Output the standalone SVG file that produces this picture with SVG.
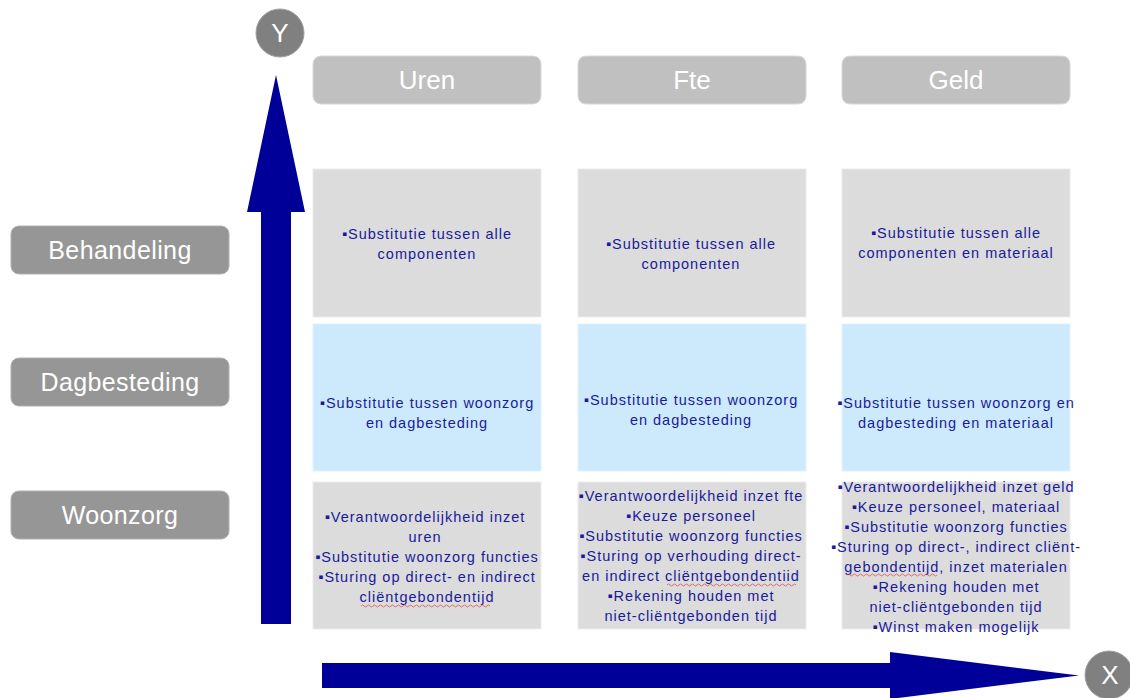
<svg xmlns="http://www.w3.org/2000/svg" width="1130" height="698" viewBox="0 0 1130 698">
<style>
.hdr{fill:#c0c0c0;stroke:#d8d8d8;stroke-width:1}
.lbl{fill:#969696;stroke:#b0b0b0;stroke-width:1}
.hdrt{font-family:"Liberation Sans",Arial,sans-serif;font-size:26px;fill:#ffffff;text-anchor:middle}
.lblt{font-family:"Liberation Sans",Arial,sans-serif;font-size:25px;fill:#ffffff;text-anchor:middle;letter-spacing:0.4px}
.gray{fill:#dcdcdc;stroke:#ececec;stroke-width:1}
.blue{fill:#cceafc;stroke:#e0f2fd;stroke-width:1}
.ct{font-family:"Liberation Sans",Arial,sans-serif;font-size:14.5px;fill:#1a1a9a;text-anchor:middle;letter-spacing:1px}
.arr{fill:#000099}
.circ{fill:#808080;stroke:#a0a0a0;stroke-width:1}
.circt{font-family:"Liberation Sans",Arial,sans-serif;font-size:26px;fill:#ffffff;text-anchor:middle}
.sq{fill:none;stroke:#e05050;stroke-width:0.8}
</style>
<rect width="1130" height="698" fill="#ffffff"/>
<g id="connectors">
<polygon class="arr" points="261,624 291,624 291,212 305,212 276,75 247,212 261,212"/>
<polygon class="arr" points="322,663 890,663 890,652 1079,675.5 890,699 890,688 322,688"/>
</g>
<g id="axis-y"><circle class="circ" cx="280" cy="33" r="24"/><text class="circt" x="280" y="42">Y</text></g>
<g id="axis-x"><circle class="circ" cx="1109" cy="675" r="24"/><text class="circt" x="1110" y="684">X</text></g>
<g id="hdr-uren"><rect class="hdr" x="313" y="56" width="228" height="48" rx="8"/><text class="hdrt" x="427" y="89">Uren</text></g>
<g id="hdr-fte"><rect class="hdr" x="578" y="56" width="228" height="48" rx="8"/><text class="hdrt" x="692" y="89">Fte</text></g>
<g id="hdr-geld"><rect class="hdr" x="842" y="56" width="228" height="48" rx="8"/><text class="hdrt" x="956" y="89">Geld</text></g>
<g id="lbl-behandeling"><rect class="lbl" x="11" y="226" width="218" height="48" rx="8"/><text class="lblt" x="120" y="259">Behandeling</text></g>
<g id="lbl-dagbesteding"><rect class="lbl" x="11" y="358" width="218" height="48" rx="8"/><text class="lblt" x="120" y="391">Dagbesteding</text></g>
<g id="lbl-woonzorg"><rect class="lbl" x="11" y="491" width="218" height="48" rx="8"/><text class="lblt" x="120" y="524">Woonzorg</text></g>
<g id="c11"><rect class="gray" x="313" y="169" width="228" height="148"/>
<text class="ct" x="427" y="239">▪Substitutie tussen alle</text><text class="ct" x="427" y="259">componenten</text></g>
<g id="c12"><rect class="gray" x="578" y="169" width="228" height="148"/>
<text class="ct" x="691" y="249">▪Substitutie tussen alle</text><text class="ct" x="691" y="269">componenten</text></g>
<g id="c13"><rect class="gray" x="842" y="169" width="228" height="148"/>
<text class="ct" x="956" y="238">▪Substitutie tussen alle</text><text class="ct" x="956" y="258">componenten en materiaal</text></g>
<g id="c21"><rect class="blue" x="313" y="324" width="228" height="147"/>
<text class="ct" x="427" y="408">▪Substitutie tussen woonzorg</text><text class="ct" x="427" y="428">en dagbesteding</text></g>
<g id="c22"><rect class="blue" x="578" y="324" width="228" height="147"/>
<text class="ct" x="691" y="405">▪Substitutie tussen woonzorg</text><text class="ct" x="691" y="425">en dagbesteding</text></g>
<g id="c23"><rect class="blue" x="842" y="324" width="228" height="147"/>
<text class="ct" x="956" y="408">▪Substitutie tussen woonzorg en</text><text class="ct" x="956" y="428">dagbesteding en materiaal</text></g>
<g id="c31"><rect class="gray" x="313" y="482" width="228" height="147"/>
<text class="ct" x="425" y="522">▪Verantwoordelijkheid inzet</text>
<text class="ct" x="425" y="542">uren</text>
<text class="ct" x="427" y="562">▪Substitutie woonzorg functies</text>
<text class="ct" x="427" y="582">▪Sturing op direct- en indirect</text>
<text class="ct" x="427" y="602">cliëntgebondentijd</text>
<path class="sq" d="M361,606 q1.5,-2 3,0 t3,0 t3,0 t3,0 t3,0 t3,0 t3,0 t3,0 t3,0 t3,0 t3,0 t3,0 t3,0 t3,0 t3,0 t3,0 t3,0 t3,0 t3,0 t3,0 t3,0 t3,0 t3,0 t3,0 t3,0 t3,0 t3,0 t3,0 t3,0 t3,0 t3,0 t3,0 t3,0 t3,0 t3,0 t3,0 t3,0 t3,0 t3,0 t3,0 t3,0 t3,0 t3,0"/></g>
<g id="c32"><rect class="gray" x="578" y="482" width="228" height="147"/>
<text class="ct" x="691" y="501">▪Verantwoordelijkheid inzet fte</text>
<text class="ct" x="691" y="521">▪Keuze personeel</text>
<text class="ct" x="691" y="541">▪Substitutie woonzorg functies</text>
<text class="ct" x="691" y="561">▪Sturing op verhouding direct-</text>
<text class="ct" x="691" y="581">en indirect cliëntgebondentiid</text>
<path class="sq" d="M667,585 q1.5,-2 3,0 t3,0 t3,0 t3,0 t3,0 t3,0 t3,0 t3,0 t3,0 t3,0 t3,0 t3,0 t3,0 t3,0 t3,0 t3,0 t3,0 t3,0 t3,0 t3,0 t3,0 t3,0 t3,0 t3,0 t3,0 t3,0 t3,0 t3,0 t3,0 t3,0 t3,0 t3,0 t3,0 t3,0 t3,0 t3,0 t3,0 t3,0 t3,0 t3,0 t3,0 t3,0 t3,0"/>
<text class="ct" x="691" y="601">▪Rekening houden met</text>
<text class="ct" x="691" y="621">niet-cliëntgebonden tijd</text></g>
<g id="c33"><rect class="gray" x="842" y="482" width="228" height="147"/>
<text class="ct" x="956" y="492">▪Verantwoordelijkheid inzet geld</text>
<text class="ct" x="956" y="512">▪Keuze personeel, materiaal</text>
<text class="ct" x="956" y="532">▪Substitutie woonzorg functies</text>
<text class="ct" x="956" y="552">▪Sturing op direct-, indirect cliënt-</text>
<text class="ct" x="956" y="572">gebondentijd, inzet materialen</text>
<path class="sq" d="M847,575 q1.5,-2 3,0 t3,0 t3,0 t3,0 t3,0 t3,0 t3,0 t3,0 t3,0 t3,0 t3,0 t3,0 t3,0 t3,0 t3,0 t3,0 t3,0 t3,0 t3,0 t3,0 t3,0 t3,0 t3,0 t3,0 t3,0 t3,0 t3,0 t3,0 t3,0 t3,0"/>
<text class="ct" x="956" y="592">▪Rekening houden met</text>
<text class="ct" x="956" y="612">niet-cliëntgebonden tijd</text>
<text class="ct" x="956" y="632">▪Winst maken mogelijk</text></g>
</svg>
